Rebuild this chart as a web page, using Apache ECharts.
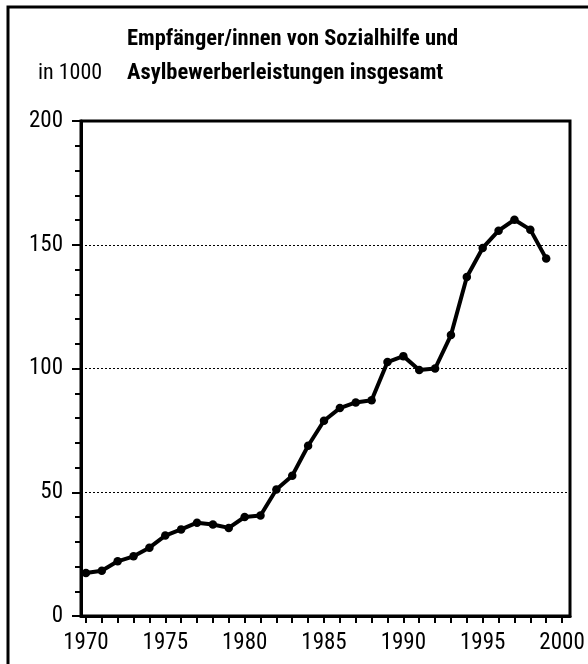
<!DOCTYPE html>
<html>
<head>
<meta charset="utf-8">
<script src="https://cdn.jsdelivr.net/npm/echarts@6/dist/echarts.min.js"></script>
<style>
  html, body { margin: 0; padding: 0; background: #fff; }
  #main { width: 588px; height: 664px; }
</style>
</head>
<body>
<div id="main"></div>
<script>
// Empfänger/innen von Sozialhilfe und Asylbewerberleistungen, in 1000
const years = [1970, 1971, 1972, 1973, 1974, 1975, 1976, 1977, 1978, 1979,
  1980, 1981, 1982, 1983, 1984, 1985, 1986, 1987, 1988, 1989,
  1990, 1991, 1992, 1993, 1994, 1995, 1996, 1997, 1998, 1999];
const values = [17.4, 18.3, 22.1, 24.1, 27.6, 32.5, 35.0, 37.7, 37.0, 35.6,
  40.0, 40.6, 51.1, 56.7, 68.8, 78.9, 84.0, 86.3, 87.2, 102.6,
  105.0, 99.4, 100.0, 113.5, 137.0, 148.7, 155.7, 160.1, 156.1, 144.4];
const yearTicks = [1970, 1971, 1972, 1973, 1974, 1975, 1976, 1977, 1978, 1979,
  1980, 1981, 1982, 1983, 1984, 1985, 1986, 1987, 1988, 1989,
  1990, 1991, 1992, 1993, 1994, 1995, 1996, 1997, 1998, 1999, 2000];
const yearLabels = [1970, 1975, 1980, 1985, 1990, 1995, 2000];

const font = "'Roboto Condensed', 'Liberation Sans Narrow', sans-serif";

let chartDom = document.getElementById("main");
let myChart = echarts.init(chartDom);
let option;

option = {
  animation: false,
  backgroundColor: "#fff",
  title: [
    {
      text: "Empfänger/innen von Sozialhilfe und\nAsylbewerberleistungen insgesamt",
      left: 127,
      top: 22,
      padding: 0,
      textStyle: {
        fontFamily: font,
        fontWeight: "bold",
        fontSize: 22.5,
        lineHeight: 34,
        color: "#000",
      },
    },
    {
      text: "in 1000",
      left: 38,
      top: 56,
      padding: 0,
      textStyle: {
        fontFamily: font,
        fontWeight: "normal",
        fontSize: 22,
        lineHeight: 34,
        color: "#000",
      },
    },
  ],
  graphic: [
    {
      type: "rect",
      shape: { x: 8, y: 7, width: 700, height: 800 },
      style: { fill: "none", stroke: "#000", lineWidth: 3 },
      silent: true,
    },
  ],
  grid: {
    left: 81,
    top: 121,
    width: 489,
    height: 495,
    show: true,
    borderColor: "#000",
    borderWidth: 3,
    backgroundColor: "transparent",
  },
  xAxis: {
    type: "value",
    min: 1969.69,
    max: 2000.5,
    axisLine: { show: true, lineStyle: { color: "#000", width: 3 } },
    axisTick: {
      show: true,
      customValues: yearTicks,
      length: 7,
      lineStyle: { color: "#000", width: 2 },
    },
    axisLabel: {
      customValues: yearLabels,
      formatter: (v) => String(v),
      margin: 16,
      fontFamily: font,
      fontSize: 23,
      color: "#000",
    },
    splitLine: { show: false },
  },
  yAxis: {
    type: "value",
    min: 0,
    max: 200,
    interval: 50,
    axisLine: { show: true, lineStyle: { color: "#000", width: 3 } },
    axisTick: { show: true, length: 9, lineStyle: { color: "#000", width: 2 } },
    minorTick: { show: true, splitNumber: 5, length: 6, lineStyle: { color: "#000", width: 2 } },
    axisLabel: {
      margin: 18,
      fontFamily: font,
      fontSize: 23,
      color: "#000",
    },
    splitLine: {
      show: true,
      lineStyle: { color: "#000", width: 1, type: [2, 2] },
    },
  },
  series: [
    {
      type: "line",
      data: years.map((y, i) => [y, values[i]]),
      symbol: "circle",
      symbolSize: 8.5,
      itemStyle: { color: "#000" },
      lineStyle: { color: "#000", width: 4 },
    },
  ],
};
option && myChart.setOption(option);
</script>
</body>
</html>
